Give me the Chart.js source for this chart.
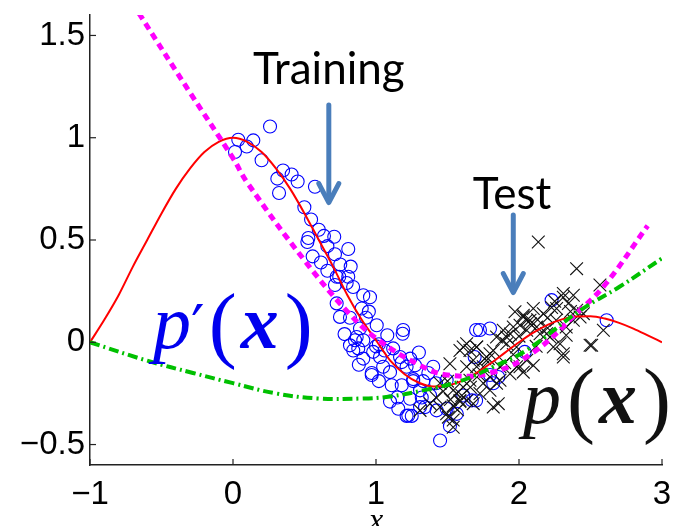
<!DOCTYPE html>
<html><head><meta charset="utf-8">
<script src="https://cdn.jsdelivr.net/npm/chart.js@4/dist/chart.umd.min.js"></script>
<style>html,body{margin:0;padding:0;background:#fff}#wrap{width:674px;height:526px;position:relative}</style>
</head><body><div id="wrap"><canvas id="c"></canvas></div>
<script>
const xTicks = [-1, 0, 1, 2, 3];
const yTicks = [-0.5, 0, 0.5, 1, 1.5];

const redX = [-1,-0.9,-0.8,-0.7,-0.6,-0.5,-0.4,-0.3,-0.2,-0.1,0,0.1,0.2,0.3,0.4,0.5,0.6,0.7,0.8,0.9,1.0,1.1,1.2,1.3,1.4,1.5,1.6,1.7,1.8,1.9,2.0,2.1,2.2,2.3,2.4,2.5,2.6,2.7,2.8,2.9,3.0];
const redY = [0,0.11,0.23,0.37,0.5,0.63,0.75,0.85,0.93,0.98,1.0,0.98,0.93,0.85,0.75,0.63,0.5,0.37,0.23,0.11,0.01,-0.09,-0.156,-0.198,-0.216,-0.212,-0.189,-0.151,-0.104,-0.052,0,0.047,0.085,0.112,0.126,0.127,0.116,0.095,0.067,0.034,0];

const magX = [-0.7,-0.65,-0.3,0,0.1,0.5,0.8,1.0,1.3,1.5,1.8,2.1,2.4,2.6,2.9];
const magY = [1.66,1.6,1.22,0.9,0.78,0.40,0.15,0.02,-0.11,-0.16,-0.15,-0.05,0.14,0.28,0.57];

const greenX = [-1,-0.6,-0.28,0,0.3,0.6,0.9,1.1,1.33,1.59,1.82,2.05,2.43,2.7,3.0];
const greenY = [0,-0.09,-0.15,-0.2,-0.25,-0.275,-0.275,-0.265,-0.235,-0.19,-0.12,-0.04,0.157,0.27,0.41];

const trainX = [0.259,0.037,0.014,0.096,0.142,0.20,0.31,0.41,0.452,0.322,0.573,0.499,0.546,0.527,0.52,0.636,0.708,0.557,0.615,0.713,0.806,0.823,0.743,0.806,
0.725,0.795,0.713,0.911,0.958,0.725,0.748,0.818,0.90,0.888,1.005,1.079,1.186,0.853,0.911,0.841,0.876,0.98,0.911,1.028,1.168,0.97,1.098,1.214,1.11,1.18,1.26,1.098,1.156,1.226,1.238,
1.214,1.308,1.424,1.448,1.517,1.494,1.366,1.26,1.18,1.05,1.19,0.97,0.865,0.818,
1.273,1.33,1.40,1.308,1.378,1.494,1.25,1.343,1.70,1.797,1.61,1.67,1.797,1.855,
2.228,2.613,1.727,1.69,2.04,1.42,1.82,1.70,1.565,0.60,0.66,0.35,0.95,1.02,
0.66,0.75,0.84,0.93,1.0,1.06,1.12,1.24,1.30,0.88,1.02,1.15,1.32,0.78];
const trainY = [1.055,0.99,0.93,0.957,0.987,0.89,0.80,0.82,0.786,0.73,0.76,0.66,0.60,0.51,0.49,0.52,0.516,0.42,0.39,0.43,0.456,0.37,0.32,0.32,
0.32,0.29,0.28,0.23,0.22,0.19,0.124,0.12,0.165,0.067,0.083,0.034,0.042,0.01,0.01,-0.04,-0.03,-0.047,-0.08,-0.072,-0.072,-0.16,-0.146,-0.12,-0.21,-0.21,-0.19,-0.29,-0.325,-0.358,-0.276,
-0.36,-0.317,-0.333,-0.48,-0.41,-0.186,-0.15,-0.18,-0.097,-0.12,0.06,-0.15,0.026,-0.015,
-0.113,-0.19,-0.12,-0.235,-0.26,-0.325,-0.36,-0.317,0.06,0.067,-0.26,-0.284,-0.16,-0.17,
0.206,0.108,0.06,-0.072,-0.047,-0.2,-0.2,-0.285,-0.35,0.55,0.47,0.84,0.15,-0.01,
0.35,0.38,0.27,0.12,-0.02,-0.04,-0.03,-0.08,-0.05,-0.11,-0.19,-0.27,-0.27,0.04];

const testX = [2.135,2.403,2.566,2.31,2.228,2.17,2.10,2.03,1.972,2.26,2.33,2.38,2.427,2.287,2.31,2.497,2.217,2.147,2.054,1.96,1.89,1.843,1.913,1.983,2.054,2.007,1.937,1.867,1.797,1.704,1.634,1.587,1.68,1.75,1.797,1.867,1.75,1.657,1.61,1.564,1.587,1.634,1.54,1.494,1.54,1.448,1.855,1.727,1.797,1.704,1.634,
1.61,1.657,1.517,1.448,1.54,1.587,1.378,1.308,1.54,1.506,1.82,1.843,2.007,2.077,2.03,1.913,1.785,1.704,1.983,2.03,2.10,
2.31,2.345,2.263,2.403,2.59,2.508,2.054,2.124,2.193,2.33,2.24,2.31,
1.42,1.47,1.52,1.57,1.60,1.66,1.72,1.76,1.82,1.88,1.94,2.0,2.08,2.13,2.2,2.25,2.36,2.45,2.38,2.2,2.12,1.96,1.9,1.68,1.5];
const testY = [0.49,0.36,0.28,0.22,0.17,0.14,0.165,0.124,0.149,0.108,0.075,0.108,0.124,-0.007,-0.072,-0.015,0.026,0.042,0.059,0.075,0.059,0.026,-0.007,-0.023,-0.088,-0.12,-0.154,-0.12,-0.056,-0.023,-0.007,-0.04,-0.088,-0.12,-0.17,-0.186,-0.2,-0.186,-0.22,-0.25,-0.29,-0.285,-0.31,-0.35,-0.38,-0.317,-0.30,-0.25,-0.235,-0.12,-0.12,
-0.023,-0.04,-0.105,-0.2,-0.235,-0.285,-0.3,-0.333,-0.415,-0.366,-0.317,-0.2,0.083,0.108,0.132,0.026,-0.08,-0.023,-0.12,-0.146,-0.113,
0.238,0.19,0.165,0.157,0.059,-0.015,0.108,0.075,0.042,0.034,-0.023,-0.056,
-0.27,-0.24,-0.28,-0.33,-0.26,-0.22,-0.16,-0.08,-0.04,0.01,0.04,0.03,0.09,0.11,0.12,0.2,0.15,0.14,0.23,0.07,-0.02,-0.06,-0.1,-0.3,-0.19];

const pts = (xs, ys) => xs.map((x, i) => ({x, y: ys[i]}));
const fmt = v => (v < 0 ? '\u2212' : '') + String(Math.abs(v));
const SERIF = '"Liberation Serif", "Times New Roman", "DejaVu Serif", serif';

const overlay = {
  id: 'overlay',
  afterDraw(chart) {
    const ctx = chart.ctx, xs = chart.scales.x, ys = chart.scales.y;
    const a = chart.chartArea;
    ctx.save();
    ctx.strokeStyle = '#222'; ctx.lineWidth = 1.2;
    xTicks.forEach(v => { const px = xs.getPixelForValue(v); ctx.beginPath(); ctx.moveTo(px, a.bottom); ctx.lineTo(px, a.bottom - 6); ctx.stroke(); });
    yTicks.forEach(v => { const py = ys.getPixelForValue(v); ctx.beginPath(); ctx.moveTo(a.left, py); ctx.lineTo(a.left + 6, py); ctx.stroke(); });

    ctx.fillStyle = '#000'; ctx.font = 'italic 32px ' + SERIF; ctx.textAlign = 'center'; ctx.textBaseline = 'alphabetic';
    ctx.fillText('x', xs.getPixelForValue(1), 530);

    ctx.font = '44px Lato';
    ctx.fillText('Training', xs.getPixelForValue(0.67), ys.getPixelForValue(1.265));
    ctx.fillText('Test', xs.getPixelForValue(1.951), ys.getPixelForValue(0.651));

    const arrow = (xv, y0, y1) => {
      const px = xs.getPixelForValue(xv), p0 = ys.getPixelForValue(y0), p1 = ys.getPixelForValue(y1);
      ctx.strokeStyle = '#4a7ebb'; ctx.lineWidth = 5; ctx.lineCap = 'round'; ctx.lineJoin = 'round';
      ctx.beginPath(); ctx.moveTo(px, p0); ctx.lineTo(px, p1 - 3); ctx.stroke();
      ctx.beginPath(); ctx.moveTo(px - 10, p1 - 19); ctx.lineTo(px, p1); ctx.lineTo(px + 10, p1 - 19); ctx.stroke();
    };
    arrow(0.67, 1.16, 0.683);
    arrow(1.96, 0.622, 0.243);

    const math = (xv, yv, color, prime) => {
      let px = xs.getPixelForValue(xv); const py = ys.getPixelForValue(yv);
      ctx.fillStyle = color; ctx.textAlign = 'left';
      const parts = [['italic 76px ' + SERIF, 'p', 0, 0]];
      if (prime) parts.push(['60px "DejaVu Serif"', '\u2032', 4, 0]);
      else parts[0][2] = 6;
      parts.push(['84px ' + SERIF, '(', 4, 4]);
      parts.push(['bold italic 76px ' + SERIF, 'x', 6, 0]);
      parts.push(['84px ' + SERIF, ')', 0, 4]);
      parts.forEach(([f, t, gap, dy]) => { ctx.font = f; ctx.fillText(t, px, py + dy); px += ctx.measureText(t).width + gap; });
    };
    math(-0.559, -0.028, '#0000ee', true);
    math(2.028, -0.396, '#111', false);
    ctx.restore();
  }
};

new Chart(document.getElementById('c'), {
  type: 'scatter',
  data: {
    datasets: [
      { label: 'green', data: pts(greenX, greenY), showLine: true, borderColor: '#00c000', borderWidth: 4, borderDash: [10, 4, 2, 4], pointRadius: 0, tension: 0.4, fill: false },
      { label: 'magenta', data: pts(magX, magY), showLine: true, borderColor: '#ff00ff', borderWidth: 5, borderDash: [7, 5], pointRadius: 0, tension: 0.4, fill: false },
      { label: 'red', data: pts(redX, redY), showLine: true, borderColor: '#ff0000', borderWidth: 2, pointRadius: 0, cubicInterpolationMode: 'monotone', fill: false },
      { label: 'test', data: pts(testX, testY), pointStyle: 'crossRot', pointRadius: 9, borderColor: '#111', borderWidth: 1.1, backgroundColor: 'transparent' },
      { label: 'train', data: pts(trainX, trainY), pointStyle: 'circle', pointRadius: 6.5, borderColor: '#0000ff', borderWidth: 1.1, backgroundColor: 'transparent' }
    ]
  },
  options: {
    responsive: true, maintainAspectRatio: false, animation: false,
    layout: { padding: { top: 15, right: 12, left: 0, bottom: 0 } },
    plugins: { legend: { display: false }, tooltip: { enabled: false } },
    scales: {
      x: {
        type: 'linear', min: -1, max: 3,
        afterBuildTicks: s => { s.ticks = xTicks.map(v => ({value: v})); },
        afterFit: s => { s.height = 61; s.paddingLeft = 0; s.paddingRight = 0; },
        grid: { display: true, drawOnChartArea: false, drawTicks: false },
        border: { display: true, color: '#222', width: 1.5 },
        ticks: { color: '#000', font: { family: 'Liberation Sans', size: 33 }, padding: 10, callback: v => fmt(v), maxRotation: 0 }
      },
      y: {
        type: 'linear', min: -0.6, max: 1.6,
        afterBuildTicks: s => { s.ticks = yTicks.map(v => ({value: v})); },
        afterFit: s => { s.width = 90; s.paddingTop = 0; s.paddingBottom = 0; },
        grid: { display: true, drawOnChartArea: false, drawTicks: false },
        border: { display: true, color: '#222', width: 1.5 },
        ticks: { color: '#000', font: { family: 'Liberation Sans', size: 33 }, padding: 5, callback: v => fmt(v) }
      }
    }
  },
  plugins: [overlay]
});
</script></body></html>
